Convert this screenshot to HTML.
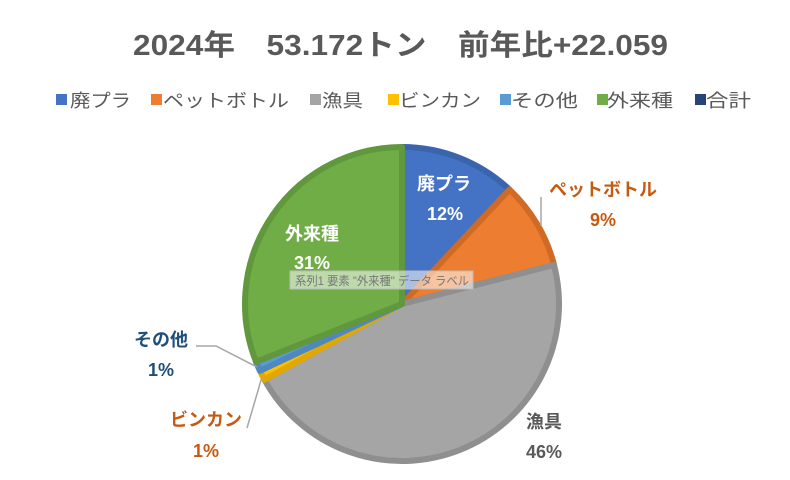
<!DOCTYPE html>
<html><head><meta charset="utf-8"><style>
body{margin:0;background:#fff;width:790px;height:475px;overflow:hidden}
svg{font-family:"Liberation Sans","Noto Sans CJK JP",sans-serif}
</style></head><body>
<svg id="s" width="790" height="475" xmlns="http://www.w3.org/2000/svg">
<text x="133" y="55" textLength="535" lengthAdjust="spacingAndGlyphs" font-size="29" font-weight="bold" fill="#595959">2024年　53.172トン　前年比+22.059</text>
<g font-size="18" fill="#595959">
<rect x="56" y="94" width="11" height="11" fill="#4472C4"/><text x="70" y="107" textLength="61" lengthAdjust="spacingAndGlyphs">廃プラ</text>
<rect x="151" y="94" width="11" height="11" fill="#ED7D31"/><text x="163" y="107" textLength="126" lengthAdjust="spacingAndGlyphs">ペットボトル</text>
<rect x="310" y="94" width="11" height="11" fill="#A5A5A5"/><text x="322" y="107" textLength="41" lengthAdjust="spacingAndGlyphs">漁具</text>
<rect x="388" y="94" width="11" height="11" fill="#FFC000"/><text x="399" y="107" textLength="82" lengthAdjust="spacingAndGlyphs">ビンカン</text>
<rect x="500" y="94" width="11" height="11" fill="#5B9BD5"/><text x="511" y="107" textLength="67" lengthAdjust="spacingAndGlyphs">その他</text>
<rect x="597" y="94" width="11" height="11" fill="#70AD47"/><text x="607" y="107" textLength="66" lengthAdjust="spacingAndGlyphs">外来種</text>
<rect x="695" y="94" width="11" height="11" fill="#264478"/><text x="706" y="107" textLength="45" lengthAdjust="spacingAndGlyphs">合計</text>
</g>
<g id="pie"></g>
<g stroke="#A6A6A6" stroke-width="1.5" fill="none">
<polyline points="541,197 541,226"/>
<polyline points="196,346 216,346 257,367"/>
<polyline points="247,428 262,377"/>
</g>
<g font-size="18" font-weight="bold" text-anchor="middle">
<text x="444" y="190" fill="#fff">廃プラ</text><text x="445" y="220" fill="#fff">12%</text>
<text x="603" y="196" fill="#C55A11">ペットボトル</text><text x="603" y="226" fill="#C55A11">9%</text>
<text x="544" y="428" fill="#595959">漁具</text><text x="544" y="458" fill="#595959">46%</text>
<text x="206" y="426" fill="#C55A11">ビンカン</text><text x="206" y="457" fill="#C55A11">1%</text>
<text x="161" y="346" fill="#1F4E79">その他</text><text x="161" y="376" fill="#1F4E79">1%</text>
<text x="312" y="240" fill="#fff">外来種</text><text x="312" y="269" fill="#fff">31%</text>
</g>
<rect x="290" y="271" width="183" height="18" fill="#fff" fill-opacity="0.55" stroke="#bbb"/>
<text x="295" y="285" font-size="12" fill="#777" textLength="174" lengthAdjust="spacingAndGlyphs">系列1 要素 "外来種" データ ラベル</text>
</svg>
<script>
var cx=402,cy=304,r=157;
var d=[[12,"#4472C4","#3A64AE"],[9,"#ED7D31","#D06A25"],[46,"#A5A5A5","#8F8F8F"],[1,"#FFC000","#E0A800"],[1,"#5B9BD5","#4E88BD"],[31,"#70AD47","#61973D"]];
var a=0,h="";
function p(t){var x=t/100*2*Math.PI;return [cx+r*Math.sin(x),cy-r*Math.cos(x)];}
d.forEach(function(s){var b=a+s[0];var p1=p(a),p2=p(b);
h+='<path d="M'+cx+','+cy+'L'+p1[0]+','+p1[1]+'A'+r+','+r+' 0 '+(s[0]>50?1:0)+' 1 '+p2[0]+','+p2[1]+'Z" fill="'+s[1]+'" stroke="'+s[2]+'" stroke-width="6" stroke-linejoin="round"/>';a=b;});
document.getElementById("pie").innerHTML=h;
</script>
</body></html>
